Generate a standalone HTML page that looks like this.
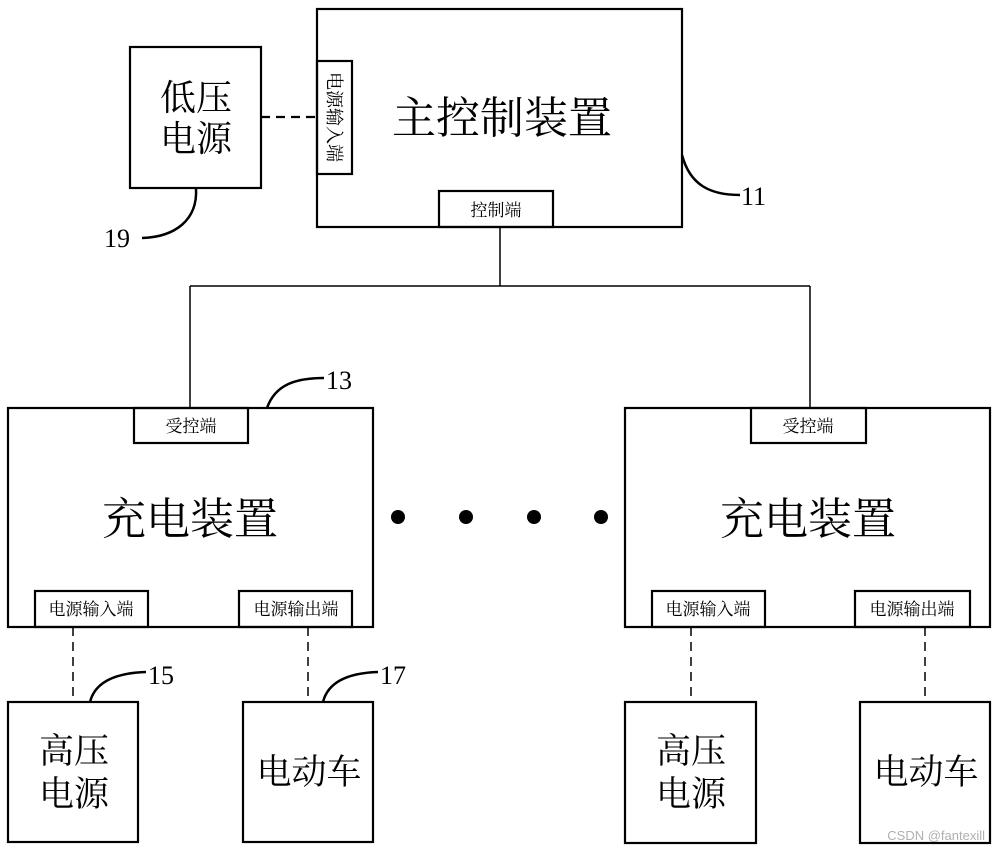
<!DOCTYPE html>
<html><head><meta charset="utf-8"><style>
html,body{margin:0;padding:0;background:#fff;}
svg{display:block;}
text{font-family:"Liberation Serif","Noto Serif CJK SC","Noto Sans CJK SC",serif;fill:#000;}
</style></head><body>
<svg width="1000" height="853" viewBox="0 0 1000 853" xmlns="http://www.w3.org/2000/svg">
<g fill="none" stroke="#000" stroke-width="2.2">
<rect x="317" y="9" width="365" height="218"/>
<rect x="317" y="61" width="35" height="113"/>
<rect x="439" y="191" width="114" height="36"/>
<rect x="130" y="47" width="131" height="141"/>
<line x1="261" y1="117" x2="317" y2="117" stroke-dasharray="9,6"/>
<line x1="500" y1="227" x2="500" y2="286" stroke-width="1.5"/>
<line x1="190" y1="286" x2="810" y2="286" stroke-width="1.5"/>
<line x1="190" y1="286" x2="190" y2="408" stroke-width="1.5"/>
<line x1="810" y1="286" x2="810" y2="408" stroke-width="1.5"/>
<path d="M682,155 C690,185 710,195 740,195" stroke-width="2.5"/>
<path d="M196,188 C198,220 175,237 142,238" stroke-width="2.5"/>
<rect x="8" y="408" width="365" height="219"/>
<rect x="134" y="408" width="114" height="35"/>
<rect x="35" y="591" width="113" height="36"/>
<rect x="239" y="591" width="113" height="36"/>
<line x1="73" y1="627" x2="73" y2="702" stroke-dasharray="9,6" stroke-width="1.5"/>
<line x1="308" y1="627" x2="308" y2="702" stroke-dasharray="9,6" stroke-width="1.5"/>
<rect x="8" y="702" width="130" height="140"/>
<rect x="243" y="702" width="130" height="140"/>
<path d="M267,408 C275,385 295,378 324,378" stroke-width="2.5"/>
<path d="M90,702 C95,682 115,673 146,672" stroke-width="2.5"/>
<path d="M323,702 C328,682 348,673 378,672" stroke-width="2.5"/>
<rect x="625" y="408" width="365" height="219"/>
<rect x="751" y="408" width="115" height="35"/>
<rect x="652" y="591" width="113" height="36"/>
<rect x="855" y="591" width="115" height="36"/>
<line x1="691" y1="627" x2="691" y2="702" stroke-dasharray="9,6" stroke-width="1.5"/>
<line x1="925" y1="627" x2="925" y2="702" stroke-dasharray="9,6" stroke-width="1.5"/>
<rect x="625" y="702" width="131" height="141"/>
<rect x="860" y="702" width="130" height="141"/>
</g>
<g fill="#000">
<circle cx="398" cy="517" r="7"/><circle cx="466" cy="517" r="7"/>
<circle cx="534" cy="517" r="7"/><circle cx="601" cy="517" r="7"/>
</g>
<text x="502" y="133" font-size="44" text-anchor="middle">主控制装置</text>
<text x="496" y="216" font-size="17" text-anchor="middle">控制端</text>
<text transform="translate(328,117) rotate(90)" font-size="18" text-anchor="middle">电源输入端</text>
<text x="196" y="110" font-size="36" text-anchor="middle">低压</text>
<text x="196" y="151" font-size="36" text-anchor="middle">电源</text>
<text x="741" y="205" font-size="26">11</text>
<text x="104" y="247" font-size="26">19</text>
<text x="326" y="389" font-size="26">13</text>
<text x="148" y="684" font-size="26">15</text>
<text x="380" y="684" font-size="26">17</text>
<g font-size="17" text-anchor="middle">
<text x="191" y="432">受控端</text>
<text x="91" y="615">电源输入端</text>
<text x="296" y="615">电源输出端</text>
<text x="808" y="432">受控端</text>
<text x="708" y="615">电源输入端</text>
<text x="912" y="615">电源输出端</text>
</g>
<text x="190" y="534" font-size="44" text-anchor="middle">充电装置</text>
<text x="808" y="534" font-size="44" text-anchor="middle">充电装置</text>
<g font-size="35" text-anchor="middle">
<text x="74" y="763">高压</text><text x="74" y="806">电源</text>
<text x="309" y="784">电动车</text>
<text x="691" y="763">高压</text><text x="691" y="806">电源</text>
<text x="926" y="784">电动车</text>
</g>
<text x="985" y="840" font-size="13" text-anchor="end" style="font-family:'Liberation Sans',sans-serif;fill:#b0b0b0">CSDN @fantexill</text>
</svg>
</body></html>
